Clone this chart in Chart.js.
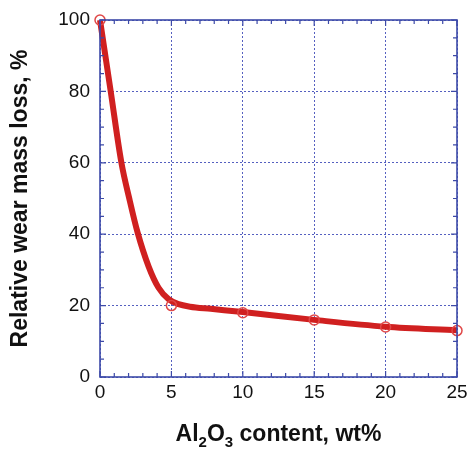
<!DOCTYPE html>
<html>
<head>
<meta charset="utf-8">
<script src="https://cdn.jsdelivr.net/npm/chart.js@4.4.1/dist/chart.umd.min.js"></script>
<style>
  html, body { margin: 0; padding: 0; background: #fff; }
  #wrap { width: 467px; height: 451px; }
</style>
</head>
<body>
<div id="wrap"><canvas id="wearChart" width="467" height="451"></canvas></div>
<script>
// measured points (open circles)
const contentPts = [0, 5, 10, 15, 20, 25];
const wearPts = [100, 20, 18, 16, 14, 13];

// fitted curve
const curveX = [0, 0.75, 1.5, 2.05, 2.63, 3.4, 4.1, 4.8, 5.5, 6.3, 7.75, 10, 15, 20, 25];
const curveY = [100, 80, 60, 50, 40.5, 31, 25, 21.8, 20.4, 19.7, 19.1, 18.2, 16, 14.1, 13.1];

const xTicks = [0, 5, 10, 15, 20, 25];
const yTicks = [0, 20, 40, 60, 80, 100];

const frameBlue = '#3d4aa8';
const gridBlue = '#5560c0';
const red = '#d02020';

// frame box, inward ticks and the subscripted x title
const framePlugin = {
    id: 'frame',
    afterDraw(chart) {
        const ctx = chart.ctx;
        const a = chart.chartArea;
        const xs = chart.scales.x;
        const ys = chart.scales.y;
        ctx.save();
        ctx.strokeStyle = frameBlue;
        ctx.lineWidth = 1.6;
        ctx.strokeRect(a.left, a.top, a.right - a.left, a.bottom - a.top);

        ctx.lineWidth = 1.2;
        ctx.beginPath();
        for (let v = 0; v <= 25; v++) {
            const px = xs.getPixelForValue(v);
            const len = v % 5 === 0 ? 6 : 4;
            ctx.moveTo(px, a.bottom); ctx.lineTo(px, a.bottom - len);
            ctx.moveTo(px, a.top); ctx.lineTo(px, a.top + len);
        }
        for (let v = 0; v <= 100; v += 5) {
            const py = ys.getPixelForValue(v);
            const len = v % 20 === 0 ? 6 : 4;
            ctx.moveTo(a.left, py); ctx.lineTo(a.left + len, py);
            ctx.moveTo(a.right, py); ctx.lineTo(a.right - len, py);
        }
        ctx.stroke();

        // x axis title: Al2O3 content, wt%
        const big = 'bold 23px "Liberation Sans", Arial, sans-serif';
        const small = 'bold 15px "Liberation Sans", Arial, sans-serif';
        const parts = [['Al', big, 0], ['2', small, 6], ['O', big, 0], ['3', small, 6], [' content, wt%', big, 0]];
        let total = 0;
        parts.forEach(p => { ctx.font = p[1]; total += ctx.measureText(p[0]).width; });
        let x = (a.left + a.right) / 2 - total / 2;
        const base = 441;
        ctx.fillStyle = '#111';
        ctx.textBaseline = 'alphabetic';
        ctx.textAlign = 'left';
        parts.forEach(p => {
            ctx.font = p[1];
            ctx.fillText(p[0], x, base + p[2]);
            x += ctx.measureText(p[0]).width;
        });
        ctx.restore();
    }
};

new Chart(document.getElementById('wearChart'), {
    type: 'scatter',
    data: {
        datasets: [{
            label: 'fit',
            data: curveX.map((x, i) => ({x: x, y: curveY[i]})),
            showLine: true,
            borderColor: red,
            borderWidth: 6,
            pointRadius: 0,
            cubicInterpolationMode: 'monotone',
            order: 2
        }, {
            label: 'measured',
            data: contentPts.map((x, i) => ({x: x, y: wearPts[i]})),
            showLine: false,
            pointRadius: 5,
            pointBorderWidth: 1.5,
            pointBorderColor: '#e04848',
            pointBackgroundColor: 'rgba(0,0,0,0)',
            order: 1
        }]
    },
    options: {
        responsive: false,
        animation: false,
        clip: false,
        layout: { padding: { top: 20, right: 10, left: 0, bottom: 0 } },
        plugins: { legend: { display: false }, tooltip: { enabled: false } },
        scales: {
            x: {
                type: 'linear', min: 0, max: 25,
                afterBuildTicks: s => { s.ticks = xTicks.map(v => ({value: v})); },
                afterFit: s => { s.height = 74; s.paddingLeft = 0; s.paddingRight = 0; },
                grid: { color: gridBlue, lineWidth: 1, drawTicks: false },
                border: { display: false, dash: [2, 2] },
                ticks: { color: '#111', padding: 4, maxRotation: 0,
                         font: { size: 19, family: '"Liberation Sans", Arial, sans-serif' } }
            },
            y: {
                type: 'linear', min: 0, max: 100,
                afterBuildTicks: s => { s.ticks = yTicks.map(v => ({value: v})); },
                afterFit: s => { s.width = 100; s.paddingTop = 0; s.paddingBottom = 0; },
                grid: { color: gridBlue, lineWidth: 1, drawTicks: false },
                border: { display: false, dash: [2, 2] },
                ticks: { color: '#111', padding: 10,
                         font: { size: 19, family: '"Liberation Sans", Arial, sans-serif' } },
                title: {
                    display: true,
                    text: 'Relative wear mass loss, %',
                    color: '#111',
                    padding: { top: 7, bottom: 0 },
                    font: { size: 23, weight: 'bold', family: '"Liberation Sans", Arial, sans-serif' }
                }
            }
        }
    },
    plugins: [framePlugin]
});
</script>
</body>
</html>
